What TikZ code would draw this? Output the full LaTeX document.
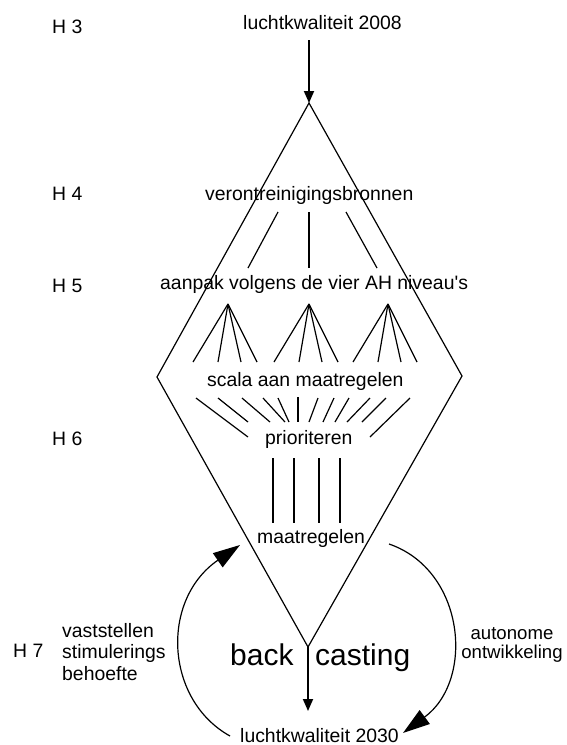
\documentclass[tikz,border=0pt]{standalone}
\usepackage{fontspec}
\setmainfont{Liberation Sans}
\usetikzlibrary{arrows.meta}

\begin{document}
\begin{tikzpicture}[x=1pt,y=-1pt,
  txt/.style={inner sep=0pt,anchor=base west,font=\fontsize{19.4}{23}\selectfont},
  sidetxt/.style={inner sep=0pt,anchor=base,font=\fontsize{18.6}{22}\selectfont},
  bigtxt/.style={inner sep=0pt,anchor=base west,font=\fontsize{30}{34}\selectfont},
  thin/.style={line width=1.2pt},
  stem/.style={line width=1.8pt,-{Triangle[length=12pt,width=10pt]}},
  loop/.style={line width=1.2pt,-{Triangle[length=27pt,width=17pt]}}]
\useasboundingbox (0,0) rectangle (566,745);

% chapter labels
\node[txt] (h3) at (52,33) {H 3};
\node[txt] (h4) at (52,200) {H 4};
\node[txt] (h5) at (52,292) {H 5};
\node[txt] (h6) at (52,445) {H 6};
\node[txt] (h7) at (13,657) {H 7};

% stages
\node[txt] (start) at (243,29) {luchtkwaliteit 2008};
\node[txt] (bron) at (205,200) {verontreinigingsbronnen};
\node[txt] (aanpak) at (160,289) {aanpak volgens de vier AH niveau\textquotesingle s};
\node[txt] (scala) at (207,386) {scala aan maatregelen};
\node[txt] (prio) at (265,444) {prioriteren};
\node[txt] (maat) at (257,543) {maatregelen};
\node[bigtxt] (back) at (230,665) {back};
\node[bigtxt] (cast) at (315,665) {casting};
\node[txt] (eind) at (240,742) {luchtkwaliteit 2030};

% side labels
\node[txt] (v1) at (62,637) {vaststellen};
\node[txt] (v2) at (62,658) {stimulerings};
\node[txt] (v3) at (62,680) {behoefte};
\node[sidetxt] (a1) at (512,639) {autonome};
\node[sidetxt] (a2) at (512,658) {ontwikkeling};

% diamond
\coordinate (dt) at (309,103);
\coordinate (dl) at (157,377);
\coordinate (dr) at (462,376);
\coordinate (db) at (308,647);
\draw[thin] (dt) -- (dl) -- (db) -- (dr) -- cycle;

% main arrows
\coordinate (in) at (309,40);
\coordinate (out) at (308,711);
\draw[stem] (in) -- (dt);
\draw[stem] (db) -- (out);

% sources to approaches
\draw[thin] (278,212) -- (248,268);
\draw[thin] (309,212) -- (309,268);
\draw[thin] (346,212) -- (377,268);

% approaches fanning out to measures
\coordinate (f1) at (228,304);
\coordinate (f2) at (309,304);
\coordinate (f3) at (388,304);
\foreach \f in {f1,f2,f3}
  \foreach \dx in {-35,-10,13,29}
    \draw[thin] (\f) -- ++(\dx,58);

% measures converging to priorities
\foreach \xa/\ya/\xb/\yb in {196/398/248/437, 218/398/248/422, 242/398/270/422,
    263/398/285/422, 278/398/289/422, 298/397/298/422, 318/398/309/422,
    334/398/323/422, 349/398/335/422, 370/398/347/422, 386/398/362/422,
    410/398/370/437}
  \draw[thin] (\xa,\ya) -- (\xb,\yb);

% priorities to final measures
\foreach \x in {273,294,319,340}
  \draw[thin] (\x,458) -- (\x,523);

% feedback loops
\coordinate (ls) at (230,736);
\coordinate (le) at (240,545);
\draw[loop] (ls) .. controls (165,700) and (160,600) .. (le);
\coordinate (rs) at (389,544);
\coordinate (re) at (403,733);
\draw[loop] (rs) .. controls (465,570) and (475,680) .. (re);
\end{tikzpicture}
\end{document}
